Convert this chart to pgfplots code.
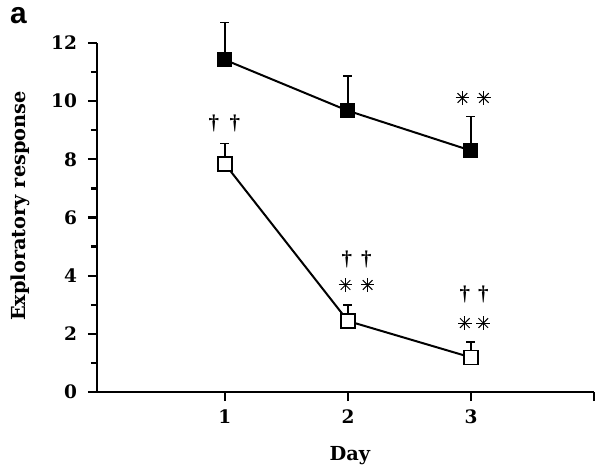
\documentclass[border=0pt]{standalone}
\usepackage{fontspec}
\setmainfont{DejaVu Serif}
\newfontfamily\panelfont{Liberation Sans}
\newfontfamily\dagfont{Liberation Serif}
\usepackage{pgfplots}
\pgfplotsset{compat=1.18}
\begin{document}
\begin{tikzpicture}
\begin{axis}[
  at={(0,0)}, anchor=south west,
  scale only axis, width=248.5bp, height=174.5bp,
  xmin=-0.04, xmax=4, ymin=0, ymax=12,
  axis lines*=left,
  axis line style={line width=1.4bp},
  xtick={1,2,3,4}, xticklabels={1,2,3,},
  ytick={0,2,...,12}, minor ytick={1,3,...,11},
  tick align=outside,
  major tick length=4.5bp, minor tick length=3bp,
  every tick/.style={black, line width=1.1bp},
  /pgf/number format/assume math mode=true,
  ticklabel style={font=\fontsize{9.3}{11}\selectfont\bfseries},
  yticklabel style={xshift=-2bp},
  xticklabel style={yshift=-1bp},
  xlabel={Day}, ylabel={Exploratory response},
  label style={font=\fontsize{9.7}{11}\selectfont\bfseries},
  xlabel style={at={(axis description cs:0.509,-0.183)}, anchor=center},
  ylabel style={at={(axis description cs:-0.155,0.533)}, anchor=center},
  clip=false,
]
% filled squares
\addplot[black, line width=1bp, mark=square*, mark size=3.5bp,
  mark options={fill=black, line width=0.5bp},
  error bars/.cd, y dir=plus, y explicit,
  error bar style={line width=0.8bp},
  error mark options={rotate=90, mark size=2.25bp, line width=0.8bp}]
  coordinates {(1,11.42) +- (0,1.28) (2,9.67) +- (0,1.20) (3,8.30) +- (0,1.17)};
% open squares
\addplot[black, line width=1bp, mark=square*, mark size=3.5bp,
  mark options={fill=white, line width=0.6bp},
  error bars/.cd, y dir=plus, y explicit,
  error bar style={line width=0.8bp},
  error mark options={rotate=90, mark size=2.25bp, line width=0.8bp}]
  coordinates {(1,7.84) +- (0,0.71) (2,2.44) +- (0,0.55) (3,1.19) +- (0,0.52)};
% asterisks (8 spokes)
\addplot[only marks, mark=+, mark size=3.4bp, mark options={line width=0.5bp}]
  coordinates {(2.93,10.11) (3.105,10.11) (1.98,3.68) (2.16,3.68) (2.95,2.37) (3.10,2.37)};
\addplot[only marks, mark=x, mark size=3.4bp, mark options={line width=0.5bp}]
  coordinates {(2.93,10.11) (3.105,10.11) (1.98,3.68) (2.16,3.68) (2.95,2.37) (3.10,2.37)};
% daggers
\node[font=\dagfont\fontsize{10.5}{12}\selectfont\bfseries, inner sep=0pt] at (axis cs:0.91,9.25) {\textdagger};
\node[font=\dagfont\fontsize{10.5}{12}\selectfont\bfseries, inner sep=0pt] at (axis cs:1.08,9.25) {\textdagger};
\node[font=\dagfont\fontsize{10.5}{12}\selectfont\bfseries, inner sep=0pt] at (axis cs:1.99,4.54) {\textdagger};
\node[font=\dagfont\fontsize{10.5}{12}\selectfont\bfseries, inner sep=0pt] at (axis cs:2.15,4.54) {\textdagger};
\node[font=\dagfont\fontsize{10.5}{12}\selectfont\bfseries, inner sep=0pt] at (axis cs:2.95,3.34) {\textdagger};
\node[font=\dagfont\fontsize{10.5}{12}\selectfont\bfseries, inner sep=0pt] at (axis cs:3.10,3.34) {\textdagger};
\end{axis}
\node[font=\panelfont\fontsize{15}{16}\selectfont\bfseries, inner sep=0pt] at (-39.25bp,188bp) {a};
\pgfresetboundingbox
\path (-48.5bp,-40.5bp) rectangle (251.5bp,196bp);
\end{tikzpicture}
\end{document}
